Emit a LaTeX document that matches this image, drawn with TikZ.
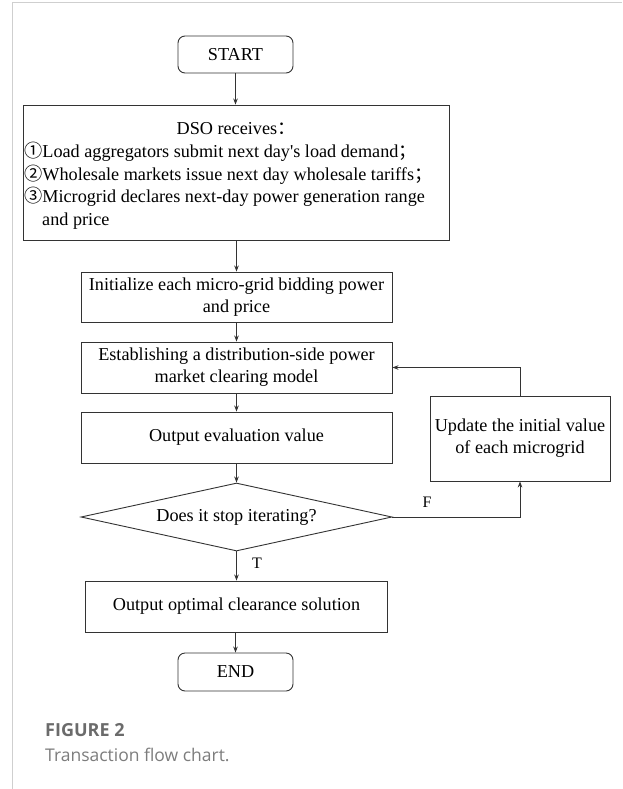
\documentclass[tikz,border=0pt]{standalone}
\usepackage{fontspec}
\setmainfont{Liberation Serif}
\newfontfamily\rmplain{Liberation Serif}
\newfontfamily\cjkf{Noto Sans CJK SC}
\newfontfamily\capf{Open Sans}
\usetikzlibrary{shapes.geometric,arrows.meta}
\definecolor{framegray}{HTML}{CFCFCF}
\definecolor{capgray}{HTML}{6B6B6B}
\definecolor{capgrayb}{HTML}{7D7D7D}
\definecolor{linec}{HTML}{333333}
\newcommand{\sq}{{\rmplain '}}
\begin{document}
\begin{tikzpicture}[x=1pt,y=-1pt,
  box/.style={draw=linec, line width=0.9pt, fill=white, inner sep=0pt, align=center,
    font=\fontsize{18.2}{22}\selectfont},
  term/.style={box, rounded corners=7pt},
  dia/.style={box, diamond, aspect=4.6},
  txt/.style={inner sep=0pt, font=\fontsize{18.2}{22}\selectfont},
  lbl/.style={inner sep=0pt, font=\fontsize{16}{16}\selectfont},
  arr/.style={draw=linec, line width=0.8pt, -{Stealth[length=6pt,width=4.5pt]}}
]
\useasboundingbox[fill=white] (0,0) rectangle (622,789);
\draw[framegray, line width=1pt] (622,3) -- (12,3) -- (12,789);

\node[term, minimum width=115pt, minimum height=37pt] (start) at (235.5,54.5) {START};
\node[box, minimum width=426pt, minimum height=135pt] (dso) at (236,172.5) {};
\node[txt, anchor=base] (dso0) at (236,135) {DSO receives{\cjkf：}};
\node[txt, anchor=base west] (dso1) at (24,157.5) {{\cjkf ①}Load aggregators submit next day\sq s load demand{\cjkf；}};
\node[txt, anchor=base west] (dso2) at (24,180) {{\cjkf ②}Wholesale markets issue next day wholesale tariffs{\cjkf；}};
\node[txt, anchor=base west] (dso3) at (24,202.5) {{\cjkf ③}Microgrid declares next-day power generation range};
\node[txt, anchor=base west] (dso4) at (42,225) {and price};

\node[box, minimum width=311pt, minimum height=50pt] (init) at (236.5,297) {Initialize each micro-grid bidding power\\and price};
\node[box, minimum width=311pt, minimum height=51pt] (model) at (236.5,367.5) {Establishing a distribution-side power\\market clearing model};
\node[box, minimum width=311pt, minimum height=51pt] (eval) at (236.5,437.5) {Output evaluation value};
\node[dia, minimum width=311pt, minimum height=68pt] (stop) at (236.5,517) {Does it stop iterating?};
\node[box, minimum width=302pt, minimum height=51pt] (opt) at (236.5,606.5) {Output optimal clearance solution};
\node[term, minimum width=115pt, minimum height=38pt] (end) at (235.5,672) {END};
\node[box, minimum width=180pt, minimum height=85pt] (upd) at (520,438.5) {Update the initial value\\of each microgrid};

\draw[arr] (start) -- (start |- dso.north);
\draw[arr] (init.north |- dso.south) -- (init.north);
\draw[arr] (init) -- (model);
\draw[arr] (model) -- (eval);
\draw[arr] (eval) -- (stop);
\draw[arr] (stop.south) -- (opt.north);
\draw[arr] (end.north |- opt.south) -- (end.north);
\draw[arr] (upd.north) |- (model.east);
\draw[arr] (stop.east) -| (upd.south);

\node[lbl] (flab) at (427,502) {F};
\node[lbl] (tlab) at (257,563) {T};

\node[anchor=base west, inner sep=0pt, text=capgray, font=\capf\bfseries\fontsize{18}{18}\selectfont] (fig) at (45,736.5) {FIGURE 2};
\node[anchor=base west, inner sep=0pt, text=capgrayb, font=\capf\fontsize{17.5}{18}\selectfont] (cap) at (45,761) {Transaction flow chart.};
\end{tikzpicture}
\end{document}
